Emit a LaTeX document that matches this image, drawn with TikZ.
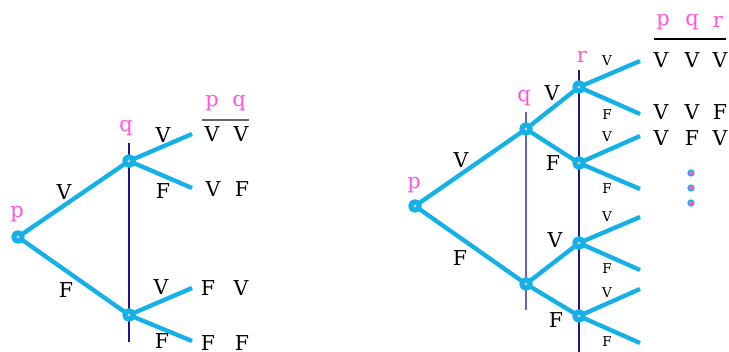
\documentclass[tikz,border=0pt]{standalone}
\usepackage{fontspec}
\setmainfont{DejaVu Serif}
\definecolor{branch}{RGB}{20,176,232}
\definecolor{varcol}{RGB}{255,85,221}
\definecolor{navyline}{RGB}{25,25,135}
\definecolor{lightnavy}{RGB}{100,100,190}
\definecolor{hubdot}{RGB}{205,205,205}
\tikzset{
  br/.style={draw=branch,line width=4.3pt},
  vert/.style={circle,fill=branch,minimum size=13pt,inner sep=0pt,
    path picture={\fill[hubdot] (path picture bounding box.center) circle (1.6pt);}},
  lbl/.style={inner sep=0pt,font=\fontsize{20.5}{20.5}\selectfont},
  small/.style={inner sep=0pt,font=\fontsize{13.5}{13.5}\selectfont},
  varname/.style={inner sep=0pt,text=varcol,font=\fontsize{21}{21}\selectfont},
  tdot/.style={circle,fill=varcol,draw=branch,line width=1.2pt,minimum size=6pt,inner sep=0pt},
}
\begin{document}
\begin{tikzpicture}[x=1pt,y=-1pt]
\useasboundingbox (0,0) rectangle (729,352);
% ---------- left tree ----------
\coordinate (lqt) at (129,143);
\coordinate (lqb) at (129,342);
\draw[navyline,line width=1.1pt] (lqt) -- (lqb);
\node[vert] (lp) at (18,237) {};
\node[vert] (lq1) at (129,161) {};
\node[vert] (lq2) at (129,315) {};
\coordinate (le1) at (192,134);
\coordinate (le2) at (192,188);
\coordinate (le3) at (192,288);
\coordinate (le4) at (192,341);
\draw[br] (lp.center) -- (lq1.center);
\draw[br] (lp.center) -- (lq2.center);
\draw[br] (lq1.center) -- (le1);
\draw[br] (lq1.center) -- (le2);
\draw[br] (lq2.center) -- (le3);
\draw[br] (lq2.center) -- (le4);
\node[vert] at (lp) {};
\node[vert] at (lq1) {};
\node[vert] at (lq2) {};
\node[varname] (lpn) at (17,214) {p};
\node[varname] (lqn) at (126,128) {q};
\node[lbl] (l1) at (64,192) {V};
\node[lbl] (l2) at (66,290) {F};
\node[lbl] (l3) at (163,135) {V};
\node[lbl] (l4) at (163,191) {F};
\node[lbl] (l5) at (161,287) {V};
\node[lbl] (l6) at (162,341) {F};
% left table
\node[varname] (lhp) at (212,103) {p};
\node[varname] (lhq) at (239,103) {q};
\coordinate (lla) at (202,120);
\coordinate (llb) at (249,120);
\draw[gray!80!black,line width=1.3pt] (lla) -- (llb);
\node[lbl] at (212,134) {V}; \node[lbl] at (241,134) {V};
\node[lbl] at (213,189) {V}; \node[lbl] at (242,189) {F};
\node[lbl] at (208,288) {F}; \node[lbl] at (241,288) {V};
\node[lbl] at (208,343.5) {F}; \node[lbl] at (242,343.5) {F};
% ---------- right tree ----------
\coordinate (rqt) at (526,112);
\coordinate (rqb) at (526,310);
\coordinate (rrt) at (579,70);
\coordinate (rrb) at (579,352);
\draw[lightnavy,line width=1.3pt] (rqt) -- (rqb);
\draw[navyline,line width=1.1pt] (rrt) -- (rrb);
\node[vert] (rp) at (415,206) {};
\node[vert] (rq1) at (526,129) {};
\node[vert] (rq2) at (526,284) {};
\node[vert] (rr1) at (579,87) {};
\node[vert] (rr2) at (579,163) {};
\node[vert] (rr3) at (579,243) {};
\node[vert] (rr4) at (579,316) {};
\coordinate (re1) at (640,61);
\coordinate (re2) at (640,114);
\coordinate (re3) at (640,136);
\coordinate (re4) at (640,189);
\coordinate (re5) at (640,217);
\coordinate (re6) at (640,270);
\coordinate (re7) at (640,289);
\coordinate (re8) at (640,343);
\draw[br] (rp.center) -- (rq1.center);
\draw[br] (rp.center) -- (rq2.center);
\draw[br] (rq1.center) -- (rr1.center);
\draw[br] (rq1.center) -- (rr2.center);
\draw[br] (rq2.center) -- (rr3.center);
\draw[br] (rq2.center) -- (rr4.center);
\draw[br] (rr1.center) -- (re1);
\draw[br] (rr1.center) -- (re2);
\draw[br] (rr2.center) -- (re3);
\draw[br] (rr2.center) -- (re4);
\draw[br] (rr3.center) -- (re5);
\draw[br] (rr3.center) -- (re6);
\draw[br] (rr4.center) -- (re7);
\draw[br] (rr4.center) -- (re8);
\foreach \n in {rp,rq1,rq2,rr1,rr2,rr3,rr4} {\node[vert] at (\n) {};}
\node[varname] (rpn) at (414,185) {p};
\node[varname] (rqn) at (524,98) {q};
\node[varname] (rrn) at (582,57) {r};
\node[lbl] at (461,160) {V};
\node[lbl] at (460,258) {F};
\node[lbl] at (552,93) {V};
\node[lbl] at (553,163) {F};
\node[lbl] at (555,240) {V};
\node[lbl] at (556,320) {F};
\node[small] at (607,61) {V};
\node[small] at (607,115) {F};
\node[small] at (607,137) {V};
\node[small] at (607,189) {F};
\node[small] at (607,217) {V};
\node[small] at (607,269) {F};
\node[small] at (607,293) {V};
\node[small] at (607,342) {F};
% right table
\node[varname] (rhp) at (663,22) {p};
\node[varname] (rhq) at (692,22) {q};
\node[varname] (rhr) at (718,22) {r};
\coordinate (rla) at (654,39);
\coordinate (rlb) at (726,39);
\draw[black,line width=1.3pt] (rla) -- (rlb);
\node[lbl] at (661,60) {V}; \node[lbl] at (692,60) {V}; \node[lbl] at (720,60) {V};
\node[lbl] at (661,112) {V}; \node[lbl] at (692,112) {V}; \node[lbl] at (720,112) {F};
\node[lbl] at (661,138) {V}; \node[lbl] at (692,138) {F}; \node[lbl] at (720,138) {V};
\node[tdot] at (691,173) {};
\node[tdot] at (691,188) {};
\node[tdot] at (691,203) {};
\end{tikzpicture}
\end{document}
